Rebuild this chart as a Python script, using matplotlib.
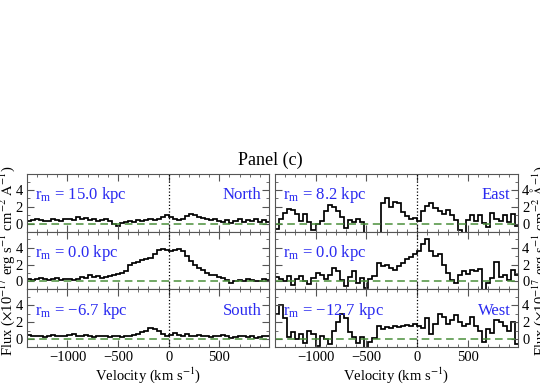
import numpy as np
import matplotlib
matplotlib.use('Agg')
import matplotlib.pyplot as plt
from matplotlib.ticker import MultipleLocator

plt.rcParams['font.family'] = ['Liberation Serif', 'DejaVu Serif']
plt.rcParams['mathtext.fontset'] = 'stix'

# velocity bin edges (km/s)
vel_edges = np.arange(-1400, 1001, 40)

# left column: North / centre / South
flux_north = [0.3, 0.4, 0.5, 0.4, 0.3, 0.3, 0.5, 0.4, 0.3, 0.5,
              0.6, 0.4, 0.8, 0.5, 0.7, 0.4, 0.6, 0.3, 0.4, 0.5,
              0.3, 0.0, -0.3, 0.1, 0.2, 0.3, 0.2, 0.4, 0.3, 0.4,
              0.5, 0.4, 0.6, 0.8, 1.0, 0.8, 0.5, 0.4, 0.6, 0.9,
              1.1, 1.0, 0.8, 0.7, 0.5, 0.4, 0.5, 0.3, 0.2, 0.4,
              0.1, 0.3, 0.5, 0.2, 0.4, 0.3, 0.5, 0.2, 0.4, 0.2]
flux_ns_centre = [0.3, 0.2, 0.3, 0.4, 0.3, 0.2, 0.3, 0.4, 0.2, 0.3,
                  0.3, 0.2, 0.3, 0.5, 0.4, 0.8, 0.5, 0.6, 0.4, 0.5,
                  0.6, 0.7, 0.9, 1.0, 1.2, 1.9, 2.2, 2.3, 2.5, 2.6,
                  2.8, 3.2, 3.7, 3.8, 3.7, 3.6, 3.7, 3.9, 3.6, 3.0,
                  2.4, 2.0, 1.6, 1.3, 1.0, 0.8, 0.7, 0.5, 0.4, 0.2,
                  -0.2, 0.0, 0.2, 0.1, 0.3, 0.2, 0.0, 0.1, 0.3, 0.2]
flux_south = [0.5, 0.3, 0.4, 0.3, 0.2, 0.4, 0.5, 0.3, 0.4, 0.3,
              0.5, 0.6, 0.4, 0.3, 0.5, 0.4, 0.2, 0.3, 0.4, 0.3,
              0.2, 0.3, 0.4, 0.2, 0.3, 0.4, 0.5, 0.6, 0.8, 1.0,
              1.3, 1.2, 0.9, 0.6, 0.4, 0.5, 0.7, 0.5, 0.4, 0.6,
              0.4, 0.3, 0.5, 0.4, 0.3, 0.2, 0.4, 0.3, 0.5, 0.3,
              0.1, 0.2, 0.3, 0.4, 0.2, 0.3, 0.1, 0.2, 0.3, 0.4]

# right column: East / centre / West
flux_east = [-0.6, 0.5, 1.3, 1.8, 1.6, 1.2, 0.3, 1.2, 0.2, -0.8,
             0.0, 0.3, 1.5, 2.2, 2.0, 1.5, 0.8, -0.5, 0.4, 0.2,
             0.5, 0.2, -1.5, -1.5, -1.5, -1.5, 2.4, 3.0, 2.0, 2.6,
             2.4, 1.4, 0.9, 0.5, 0.7, 0.3, 1.5, 2.1, 2.4, 1.9,
             1.5, 1.2, 1.6, 1.0, 0.4, -0.8, -1.2, 0.4, 1.0, 0.3,
             1.0, 0.1, -0.4, 1.3, 0.6, 0.3, 1.0, 0.2, 1.1, -0.3]
flux_ew_centre = [0.5, 0.3, 0.0, 0.6, -0.4, 0.3, 0.6, 0.0, -0.3, 0.4,
                  1.0, 0.7, 0.3, 0.8, 1.6, 1.2, 0.2, -0.6, 0.5, 1.2,
                  -0.2, 0.4, -0.8, 0.3, 0.6, 2.2, 1.8, 2.0, 1.6, 1.3,
                  1.8, 2.2, 2.6, 2.9, 3.3, 3.6, 4.4, 5.0, 3.6, 3.0,
                  3.2, 2.0, 1.0, 0.2, -0.2, 0.8, 1.2, 0.9, 1.3, 1.2,
                  1.5, -1.0, -0.2, 0.4, 2.3, 0.5, 0.8, 0.2, 1.4, 0.8]
flux_west = [3.0, 4.0, 2.5, 0.2, 0.8, 0.0, 0.6, -0.5, 1.0, 0.6,
             -0.8, 0.3, 0.0, -0.6, 1.0, 2.0, 3.0, 2.5, 0.8, 0.2,
             -0.5, 0.2, -1.2, -0.4, 0.1, 1.6, 1.2, 1.4, 1.3, 1.5,
             1.4, 1.6, 1.7, 1.5, 1.8, 1.6, 1.3, 2.5, 0.6, 1.8,
             3.0, 2.6, 1.8, 2.2, 2.8, 2.0, 1.6, 1.8, 2.6, 1.5,
             0.9, -0.3, 1.2, 0.7, 2.2, 2.0, 1.5, 1.0, 2.0, -0.6]

left_flux = [flux_north, flux_ns_centre, flux_south]
right_flux = [flux_east, flux_ew_centre, flux_west]
left_rm = ['15.0', '0.0', '\u22126.7']
right_rm = ['8.2', '0.0', '\u221212.7']
left_dir = ['North', '', 'South']
right_dir = ['East', '', 'West']

fig = plt.figure(figsize=(5.4, 3.86), dpi=100)

row_h = 0.1494
top = 0.5492
blue = '#2a2af0'
ylab = 'Flux ($\\times$10$^{-17}$ erg s$^{-1}$ cm$^{-2}$ $\\mathrm{\\AA}^{-1}$)'


def style_axis(ax, right_side, bottom_row):
    ax.set_xlim(-1400, 990)
    ax.set_ylim(-0.95, 5.9)
    ax.xaxis.set_major_locator(MultipleLocator(500))
    ax.xaxis.set_minor_locator(MultipleLocator(100))
    ax.yaxis.set_major_locator(MultipleLocator(2))
    ax.yaxis.set_minor_locator(MultipleLocator(1))
    ax.tick_params(which='both', direction='in', top=True, right=True,
                   labelsize=10.5, color='#555555')
    ax.tick_params(which='major', length=5, pad=3)
    ax.tick_params(which='minor', length=2.5)
    ax.set_yticks([0, 2, 4])
    if right_side:
        ax.tick_params(labelleft=False, labelright=True)
    if not bottom_row:
        ax.tick_params(labelbottom=False)
    for s in ax.spines.values():
        s.set_color('#555555')
        s.set_linewidth(0.8)


for col, (fluxes, rms, dirs, x0, w) in enumerate(
        [(left_flux, left_rm, left_dir, 0.050, 0.448),
         (right_flux, right_rm, right_dir, 0.509, 0.450)]):
    for row in range(3):
        ax = fig.add_axes([x0, top - (row + 1) * row_h, w, row_h])
        ax.stairs(fluxes[row], vel_edges, color='black', lw=1.25)
        ax.axhline(0, color='#4a8f3a', ls=(0, (5, 3)), lw=1.1)
        ax.axvline(0, color='black', ls=':', lw=0.9)
        style_axis(ax, col == 1, row == 2)
        ax.text(0.035, 0.63, '$\\mathregular{r_m}$ = ' + rms[row] + ' kpc',
                transform=ax.transAxes, color=blue, fontsize=12, va='center')
        if dirs[row]:
            ax.text(0.97, 0.63, dirs[row], transform=ax.transAxes,
                    color=blue, fontsize=12, va='center', ha='right')
        if row == 2:
            ax.set_xlabel('Velocity (km s$^{-1}$)', fontsize=10.5, labelpad=1)

fig.text(0.5, 0.585, 'Panel (c)', ha='center', va='center', fontsize=13)
fig.text(0.011, 0.325, ylab, rotation=90, ha='center', va='center', fontsize=10.5)
fig.text(0.998, 0.325, ylab, rotation=90, ha='center', va='center', fontsize=10.5)

fig.savefig('out.png', dpi=100)
